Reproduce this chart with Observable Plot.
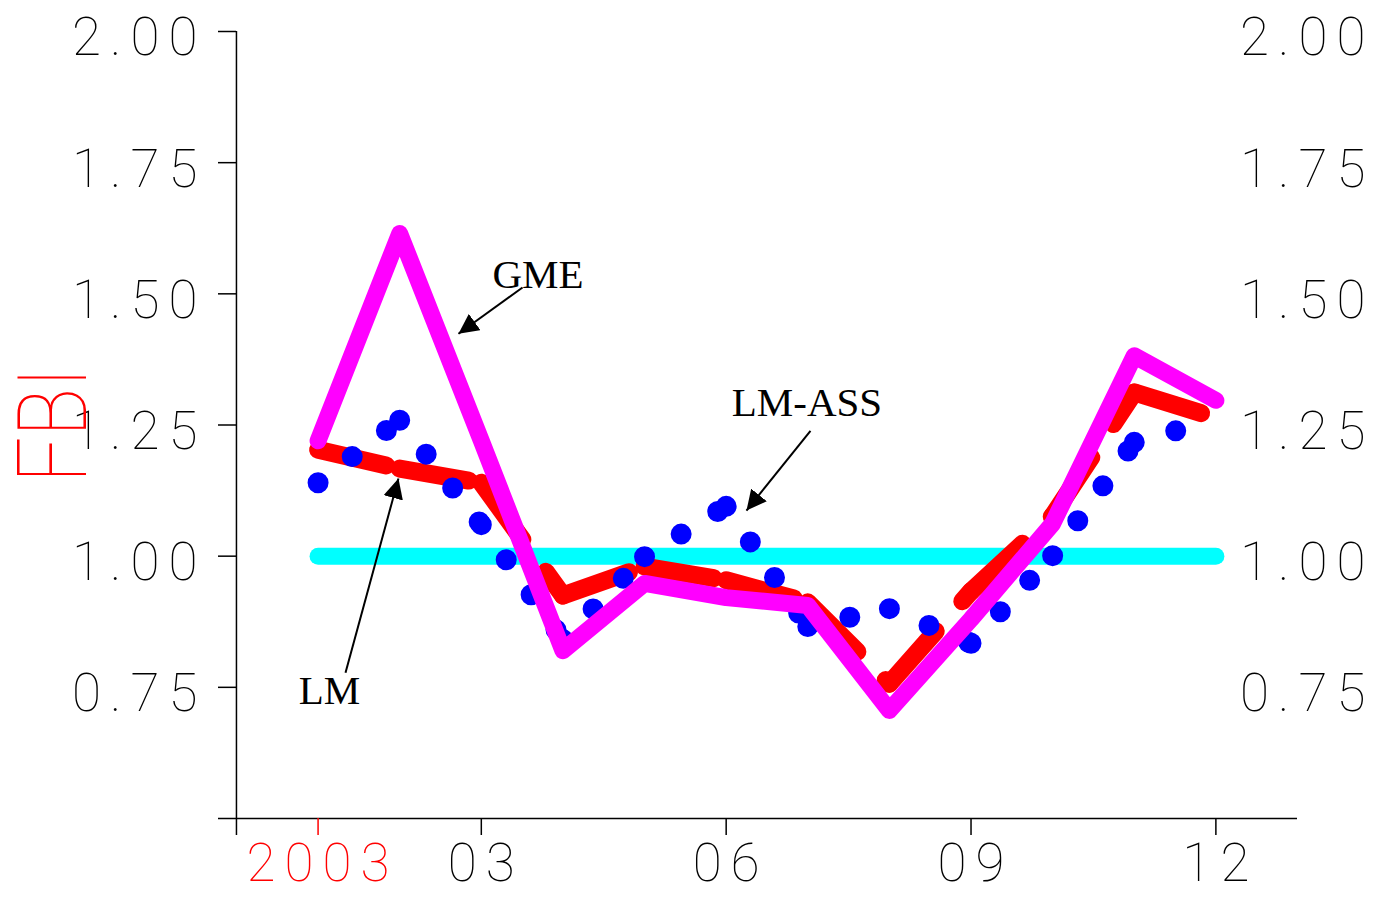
<!DOCTYPE html>
<html>
<head>
<meta charset="utf-8">
<script src="https://cdn.jsdelivr.net/npm/d3@7"></script>
<script src="https://cdn.jsdelivr.net/npm/@observablehq/plot@0.6"></script>
<style>
  body { margin: 0; background: #fff; }
</style>
</head>
<body>
<div id="chart"></div>
<script>
// ---- data ----
const months = [1, 2, 3, 4, 5, 6, 7, 8, 9, 10, 11, 12];
const lm     = [1.203, 1.167, 1.14, 0.925, 0.98, 0.954, 0.912, 0.757, 0.933, 1.077, 1.312, 1.264];
const lmAss  = [1.14, 1.259, 1.06, 0.841, 0.999, 1.095, 0.866, 0.90, 0.834, 1.001, 1.217, 1.26];
const gme    = [1.22, 1.615, 1.22, 0.82, 0.948, 0.921, 0.906, 0.706, 0.88, 1.062, 1.382, 1.297];
const benchmark = [1, 1, 1, 1, 1, 1, 1, 1, 1, 1, 1, 1];

const yTicks = [0.75, 1.00, 1.25, 1.50, 1.75, 2.00];
const xTicks = [0, 3, 6, 9, 12];
const xTickLabels = ["", "03", "06", "09", "12"];
const yearTick = [1];
const yearLabel = ["2003"];
const yTitle = "FBI";

// annotations (label position and arrow from -> to, in data units)
const annoLabels = ["GME", "LM-ASS", "LM"];
const annoX = [3.694, 6.99, 1.14];
const annoY = [1.512, 1.268, 0.719];
const arrowX1 = [3.505, 7.033, 1.336];
const arrowY1 = [1.512, 1.239, 0.778];
const arrowX2 = [2.72, 6.249, 1.985];
const arrowY2 = [1.424, 1.087, 1.148];

// ---- tables built from the arrays ----
const series = vals => months.map((m, i) => ({month: m, value: vals[i]}));
function segments(vals) {
  const out = [];
  for (let i = 0; i < vals.length - 1; i++) {
    out.push({seg: i, month: months[i], value: vals[i]});
    out.push({seg: i, month: months[i + 1], value: vals[i + 1]});
  }
  return out;
}
const annos = annoLabels.map((t, i) => ({t, x: annoX[i], y: annoY[i], x1: arrowX1[i], y1: arrowY1[i], x2: arrowX2[i], y2: arrowY2[i]}));

const tickFont = {fontFamily: "Roboto", fontWeight: 100};
const LS = 9; // letter spacing of tick labels

const svg = Plot.plot({
  width: 1381,
  height: 897,
  marginLeft: 218,
  marginRight: 84,
  marginTop: 31,
  marginBottom: 79,
  x: {domain: [-0.22, 13]},
  y: {domain: [0.5, 2.0]},
  style: {background: "white", fontFamily: "Roboto", fontSize: "53px", fontWeight: 100, overflow: "visible"},
  marks: [
    // axis lines
    Plot.ruleX([0], {stroke: "black", strokeWidth: 1.5}),
    Plot.ruleY([0.5], {stroke: "black", strokeWidth: 1.5}),
    // left ticks (pointing left from the axis line)
    Plot.axisY(yTicks, {anchor: "left", tickSize: 18, dx: 18, tickFormat: () => "", strokeWidth: 1.5}),
    // left labels
    Plot.axisY(yTicks, {anchor: "left", tickSize: 0, tickPadding: 21 - LS, dy: 7, tickFormat: d => d.toFixed(2), fill: "black", ...tickFont}),
    // right labels
    Plot.axisY(yTicks, {anchor: "right", tickSize: 0, tickPadding: 68 + LS, textAnchor: "end", dy: 7, tickFormat: d => d.toFixed(2), fill: "black", ...tickFont}),
    // bottom ticks + labels
    Plot.axisX(xTicks, {anchor: "bottom", tickSize: 17, tickPadding: 8, strokeWidth: 1.5, tickFormat: d => xTickLabels[xTicks.indexOf(d)], fill: "black", ...tickFont}),
    Plot.axisX(yearTick, {anchor: "bottom", tickSize: 17, tickPadding: 8, strokeWidth: 1.5, color: "red", tickFormat: d => yearLabel[yearTick.indexOf(d)], ...tickFont}),
    // y title
    Plot.text([yTitle], {text: d => d, frameAnchor: "left", rotate: -90, dx: -163, fill: "red", fontSize: 96, fontFamily: "Roboto", fontWeight: 100}),
    // series
    Plot.line(series(benchmark), {x: "month", y: "value", stroke: "#00FFFF", strokeWidth: 17, strokeLinecap: "round"}),
    Plot.line(segments(lm), {x: "month", y: "value", z: "seg", stroke: "#FF0000", strokeWidth: 18, strokeDasharray: "70,40", strokeLinecap: "round", strokeLinejoin: "round"}),
    Plot.line(segments(lmAss), {x: "month", y: "value", z: "seg", stroke: "#0000FF", strokeWidth: 21, strokeDasharray: "0,43", strokeLinecap: "round"}),
    Plot.line(series(gme), {x: "month", y: "value", stroke: "#FF00FF", strokeWidth: 17, strokeLinecap: "round", strokeLinejoin: "round"}),
    // annotations
    Plot.link(annos, {x1: "x1", y1: "y1", x2: "x2", y2: "y2", stroke: "black", strokeWidth: 2}),
    Plot.text(annos, {x: "x", y: "y", text: "t", lineAnchor: "bottom", fill: "black", fontFamily: "Liberation Serif", fontSize: 41, fontWeight: "normal"})
  ]
});

const s = d3.select(svg);
// filled arrowheads on the annotation links
const marker = s.append("defs").append("marker")
  .attr("id", "ahead").attr("viewBox", "0 0 20 20")
  .attr("refX", 20).attr("refY", 10)
  .attr("markerWidth", 20).attr("markerHeight", 20)
  .attr("markerUnits", "userSpaceOnUse").attr("orient", "auto");
marker.append("path").attr("d", "M0,0L20,10L0,20Z").attr("fill", "black");
s.selectAll('g[aria-label="link"] path').attr("marker-end", "url(#ahead)");

// wide spacing of the stroke-font tick labels
s.selectAll('g[aria-label="y-axis tick label"] text').style("letter-spacing", LS + "px");
s.selectAll('g[aria-label="x-axis tick label"] text').style("letter-spacing", LS + "px").attr("dx", LS / 2);

// narrow y title like the original stroke font, anchored at its start
s.selectAll('g[aria-label="text"] text').filter(function() { return this.textContent === yTitle; })
  .attr("text-anchor", "start").attr("x", -58)
  .attr("textLength", 116).attr("lengthAdjust", "spacingAndGlyphs");

document.getElementById("chart").appendChild(svg);
</script>
</body>
</html>
